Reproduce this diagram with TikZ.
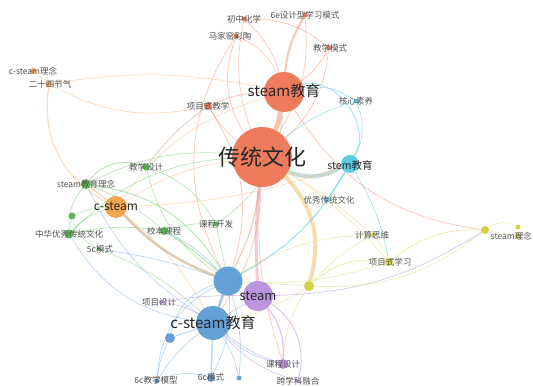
\documentclass[tikz,border=0pt]{standalone}
\usepackage{fontspec}
\newfontfamily\cjk{Noto Sans CJK SC}
\usetikzlibrary{backgrounds}
\definecolor{cOr}{RGB}{236,112,78}
\definecolor{cOrL}{RGB}{242,140,110}
\definecolor{cCs}{RGB}{244,158,64}
\definecolor{cCsL}{RGB}{247,185,120}
\definecolor{cGr}{RGB}{76,182,72}
\definecolor{cGrL}{RGB}{120,205,110}
\definecolor{cCy}{RGB}{78,200,222}
\definecolor{cBl}{RGB}{88,152,212}
\definecolor{cBlL}{RGB}{120,175,225}
\definecolor{cPu}{RGB}{182,140,222}
\definecolor{cYe}{RGB}{206,206,52}
\definecolor{cYeL}{RGB}{222,222,120}
\definecolor{cTeal}{RGB}{160,195,185}
\definecolor{cYeO}{RGB}{244,196,120}
\definecolor{cPk}{RGB}{238,150,170}
\definecolor{cBr}{RGB}{190,150,110}
\begin{document}
\begin{tikzpicture}[x=1pt,y=-1pt,
  dot/.style={circle,inner sep=0pt,minimum size=#1,draw=none,fill opacity=0.92},
  lb/.style={font=\cjk\fontsize{8.5}{9}\selectfont,text=black!68,inner sep=0pt},
  lbb/.style={font=\cjk\fontsize{#1}{#1}\selectfont,text=black!85,inner sep=0pt},
  ed/.style={draw=#1,draw opacity=0.5,line width=0.7pt},
  ed/.default=cOrL]
\useasboundingbox (0,0) rectangle (533,387);
\clip (0,0) rectangle (533,387);
% ---------- nodes ----------
\node[dot=60,fill=cOr] (ct) at (262,157) {};
\node[dot=40,fill=cOr] (se) at (284,92) {};
\node[dot=18,fill=cCy] (st) at (350,164) {};
\node[dot=5,fill=cCy] (hx) at (356,101) {};
\node[dot=5,fill=cCy] (yx) at (327,200) {};
\node[dot=5,fill=cOr] (e6) at (305,15) {};
\node[dot=5,fill=cOr] (jm) at (329,48) {};
\node[dot=5,fill=cOr] (cz) at (244,19) {};
\node[dot=5,fill=cOr] (mj) at (236,36) {};
\node[dot=8,fill=cOr] (xj) at (208,106) {};
\node[dot=6,fill=cCs] (cl) at (33,71) {};
\node[dot=6,fill=cCs] (ej) at (49,84) {};
\node[dot=22,fill=cCs] (cs) at (116,207) {};
\node[dot=10,fill=cGr] (sl) at (86,184) {};
\node[dot=7,fill=cGr] (jx) at (146,167) {};
\node[dot=9,fill=cGr] (zh) at (69,234) {};
\node[dot=7,fill=cGr] (gd) at (72,216) {};
\node[dot=4,fill=cGr] (c5) at (99,249) {};
\node[dot=8,fill=cGr] (xb) at (164,231) {};
\node[dot=5,fill=cGr] (kf) at (216,224) {};
\node[dot=29,fill=cBl] (bh) at (228,281) {};
\node[dot=30,fill=cPu] (sm) at (258,296) {};
\node[dot=34,fill=cBl] (ce) at (213,323) {};
\node[dot=4,fill=cPu] (xs) at (161,302) {};
\node[dot=10,fill=cBl] (bs) at (170,338) {};
\node[dot=5,fill=cBl] (c6m) at (157,381) {};
\node[dot=8,fill=cBl] (c6) at (211,378) {};
\node[dot=5,fill=cBl] (bt) at (239,378) {};
\node[dot=10,fill=cPu] (kc) at (283,364) {};
\node[dot=4,fill=cPu] (kx) at (298,381) {};
\node[dot=10,fill=cYe] (yy) at (309,286) {};
\node[dot=8,fill=cYe] (xx) at (389,262) {};
\node[dot=4,fill=cYe] (js) at (373,235) {};
\node[dot=8,fill=cYe] (y2) at (485,230) {};
\node[dot=6,fill=cYe] (sl2) at (518,236) {};
\node[dot=5,fill=cYe] (y3) at (518,227) {};
% ---------- labels ----------
\node[lbb=22] (lct) at (262,157) {传统文化};
\node[lbb=15] (lse) at (284,91) {steam教育};
\node[lbb=10.5] (lst) at (350,165) {stem教育};
\node[lb] (lhx) at (356,101) {核心素养};
\node[lb] (lyx) at (329,200) {优秀传统文化};
\node[lb] (le6) at (305,15) {6e设计型学习模式};
\node[lb] (ljm) at (330,48) {教学模式};
\node[lb] (lcz) at (244,19) {初中化学};
\node[lb] (lmj) at (230,36) {马家窑彩陶};
\node[lb] (lxj) at (208,106) {项目式教学};
\node[lb] (lcl) at (33,71) {c-steam理念};
\node[lb] (lej) at (50,84) {二十四节气};
\node[lbb=12] (lcs) at (116,206) {c-steam};
\node[lb] (lsl) at (86,184) {steam教育理念};
\node[lb] (ljx) at (146,167) {教学设计};
\node[lb] (lzh) at (69,234) {中华优秀传统文化};
\node[lb] (lc5) at (100,249) {5c模式};
\node[lb] (lxb) at (164,231) {校本课程};
\node[lb] (lkf) at (216,224) {课程开发};
\node[lbb=13] (lsm) at (258,296) {steam};
\node[lbb=15] (lce) at (213,323) {c-steam教育};
\node[lb] (lxs) at (159,302) {项目设计};
\node[lb] (lc6m) at (156,380) {6c教学模型};
\node[lb] (lc6) at (211,377) {6c模式};
\node[lb] (lkc) at (283,364) {课程设计};
\node[lb] (lkx) at (298,381) {跨学科融合};
\node[lb] (lxx) at (390,262) {项目式学习};
\node[lb] (ljs) at (372,235) {计算思维};
\node[lb,anchor=east] (lsl2) at (532,236) {steam理念};
% ---------- edges ----------
\begin{pgfonlayer}{background}
% thick ones
\draw[ed=cOrL,line width=5pt,draw opacity=0.55] (ct) to[bend right=8] (se);
\draw[ed=cTeal,line width=4pt,draw opacity=0.6] (ct) to[bend right=25] (st);
\draw[ed=cYeO,line width=4pt,draw opacity=0.6] (ct) to[bend left=30] (yy);
\draw[ed=cPk,line width=3pt,draw opacity=0.5] (ct) to[bend right=4] (sm);
\draw[ed=cBr,line width=2.5pt,draw opacity=0.5] (cs) to[bend right=12] (bh);
\draw[ed=cBl,line width=2.5pt,draw opacity=0.55] (bh) to (ce);
% orange cluster
\draw[ed=cOrL,line width=1.2pt] (ct) to[bend left=10] (bh);
\draw[ed=cOrL] (ct) to[bend left=15] (ce);
\draw[ed=cOrL,line width=2pt] (se) to[bend left=12] (e6);
\draw[ed=cOrL] (se) to[bend right=15] (cz);
\draw[ed=cOrL] (se) to[bend right=20] (mj);
\draw[ed=cOrL] (se) to[bend right=12] (jm);
\draw[ed=cOrL] (se) to[bend right=10] (xj);
\draw[ed=cOrL] (ct) to[bend left=15] (cz);
\draw[ed=cOrL] (ct) to[bend left=25] (mj);
\draw[ed=cOrL] (ct) to[bend right=18] (e6);
\draw[ed=cOrL] (ct) to[bend right=20] (jm);
\draw[ed=cOrL] (ct) to[bend left=10] (xj);
\draw[ed=cOrL] (xj) to[bend left=25] (bh);
\draw[ed=cOrL] (mj) to[bend right=30] (bh);
\draw[ed=cOrL] (cz) to[bend left=20] (jm);
\draw[ed=cCsL] (ej) to[bend left=10] (se);
\draw[ed=cCsL] (ej) to[bend right=20] (xj);
\draw[ed=cCsL] (cl) to (ej);
\draw[ed=cCsL,line width=1.2pt] (ej) to[bend right=35] (cs);
\draw[ed=cCsL] (cs) to[bend left=12] (ct);
\draw[ed=cCsL] (cs) to[bend left=18] (se);
\draw[ed=cCsL,line width=1.5pt] (cs) to (sl);
\draw[ed=cCsL] (cs) to[bend left=10] (ce);
\draw[ed=cCsL] (cs) to[bend right=8] (st);
\draw[ed=cOrL] (se) to[bend right=25] (y2);
\draw[ed=cYeO] (ct) to[bend left=5] (js);
\draw[ed=cOrL] (ct) to[bend right=10] (kc);
% cyan
\draw[ed=cCy,line width=0.9pt] (se) to[bend left=70] (st);
\draw[ed=cCy] (se) to[bend left=20] (hx);
\draw[ed=cCy] (hx) to[bend left=25] (st);
\draw[ed=cCy,line width=1.2pt] (st) to[bend left=15] (bh);
\draw[ed=cCy] (ct) to[bend left=10] (hx);
\draw[ed=cCy] (st) to (yx);
\draw[ed=cCy] (st) to[bend left=10] (xx);
% green
\draw[ed=cGrL,line width=1pt] (sl) to[bend left=35] (jx);
\draw[ed=cGrL,line width=1pt] (sl) to[bend left=25] (bh);
\draw[ed=cBr] (jx) to[bend left=8] (xj);
\draw[ed=cGrL] (sl) to[bend right=20] (zh);
\draw[ed=cGrL] (zh) to[bend left=10] (xb);
\draw[ed=cGrL] (zh) to[bend left=15] (cs);
\draw[ed=cGrL] (gd) to[bend left=10] (cs);
\draw[ed=cGrL] (gd) to (zh);
\draw[ed=cGrL,line width=1.2pt] (xb) to[bend left=5] (bh);
\draw[ed=cGrL] (kf) to (bh);
\draw[ed=cGrL] (kf) to[bend right=10] (xb);
\draw[ed=cGrL] (jx) to[bend right=20] (bh);
\draw[ed=cGrL] (c5) to[bend left=10] (ce);
\draw[ed=cGrL] (sl) to[bend left=15] (ct);
\draw[ed=cGrL] (zh) to[bend left=20] (ct);
\draw[ed=cGrL] (sl) to[bend left=10] (xb);
\draw[ed=cGrL] (jx) to[bend left=20] (kf);
\draw[ed=cGrL] (gd) to[bend right=25] (c5);
\draw[ed=cGrL] (kf) to[bend right=25] (se);
% blue
\draw[ed=cBlL,line width=1.5pt] (ce) to (c6);
\draw[ed=cBlL] (ce) to[bend right=10] (c6m);
\draw[ed=cBlL,line width=1pt] (ce) to (bs);
\draw[ed=cBlL] (ce) to[bend left=10] (bt);
\draw[ed=cBlL] (bh) to[bend left=15] (c6);
\draw[ed=cBlL] (bs) to[bend right=10] (c6m);
\draw[ed=cBlL] (bh) to[bend right=30] (c6m);
\draw[ed=cBlL] (c5) to[bend left=5] (bh);
\draw[ed=cBlL] (zh) to[bend right=25] (ce);
\draw[ed=cBlL] (ce) to[bend right=15] (kc);
\draw[ed=cBlL] (bh) to[bend left=10] (bt);
\draw[ed=cBlL] (sl) to[bend right=15] (ce);
\draw[ed=cBlL] (bh) to[bend right=10] (xb);
\draw[ed=cBlL] (bs) to[bend left=30] (bh);
\draw[ed=cBlL] (c6m) to[bend left=20] (c6);
% purple
\draw[ed=cPu,line width=1.2pt] (sm) to[bend left=20] (kc);
\draw[ed=cPu,line width=1pt] (sm) to[bend left=35] (kx);
\draw[ed=cPu] (sm) to[bend right=5] (xs);
\draw[ed=cPu] (sm) to[bend right=15] (y2);
\draw[ed=cPu] (sm) to (ce);
\draw[ed=cPu] (kc) to[bend left=10] (ce);
\draw[ed=cPu] (kx) to[bend left=15] (ce);
\draw[ed=cPu] (xs) to[bend left=10] (ce);
% yellow
\draw[ed=cYeL,line width=1pt] (yy) to[bend left=25] (xx);
\draw[ed=cYeL] (yy) to[bend right=20] (y2);
\draw[ed=cYeL,line width=1pt] (xx) to[bend left=20] (y2);
\draw[ed=cYeL] (js) to[bend left=10] (xx);
\draw[ed=cYeL] (js) to[bend right=10] (yy);
\draw[ed=cYeL] (y2) to (sl2);
\draw[ed=cYeL] (y2) to[bend left=30] (y3);
\draw[ed=cYeL] (sl2) to (y3);
\draw[ed=cYeL] (yy) to[bend left=10] (ce);
\draw[ed=cYeL] (yy) to (bh);
\draw[ed=cYeL] (xx) to[bend left=10] (bh);
\draw[ed=cYeL] (js) to[bend right=15] (bh);
\draw[ed=cYeL] (xx) to[bend right=8] (ct);
\draw[ed=cYeO] (yy) to[bend right=15] (kc);
\end{pgfonlayer}
\end{tikzpicture}
\end{document}
